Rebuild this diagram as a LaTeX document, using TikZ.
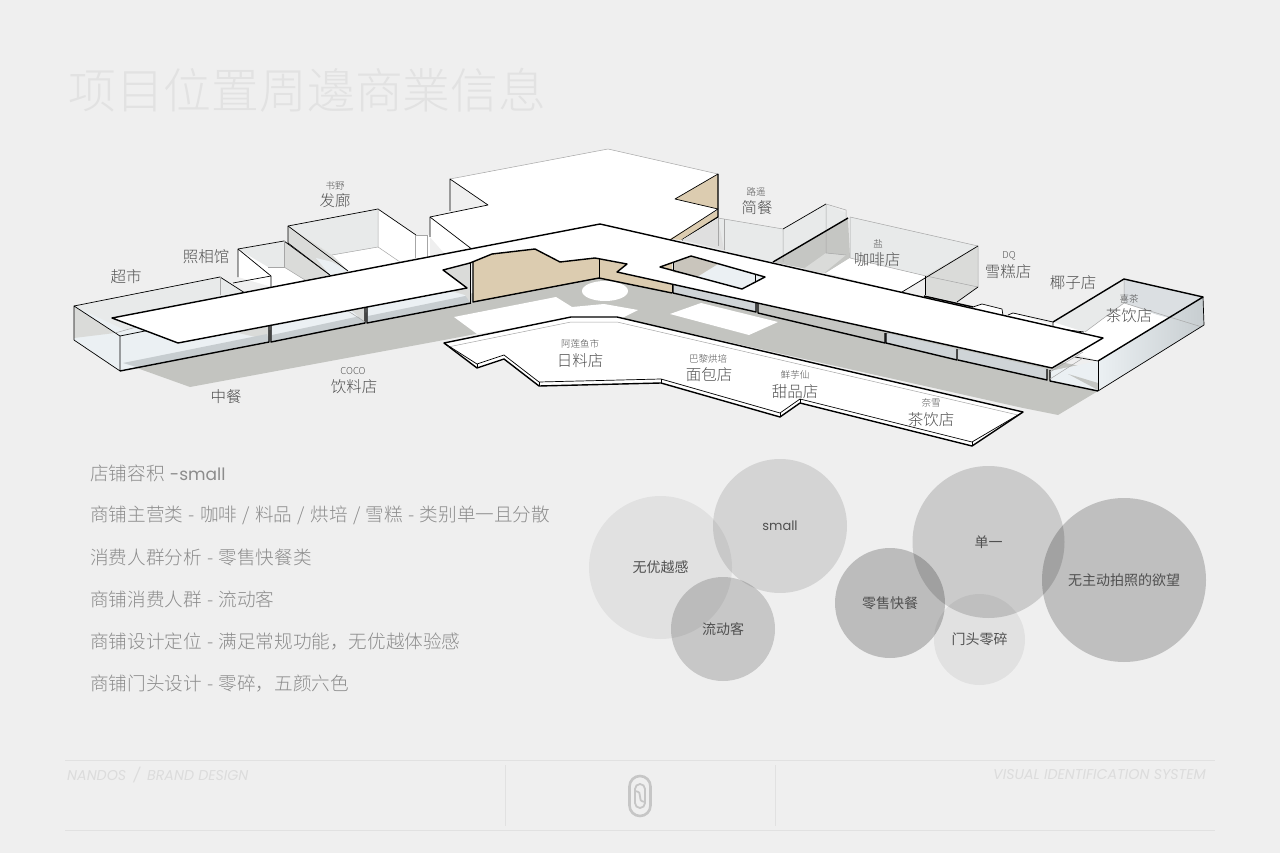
\documentclass[tikz,border=0pt]{standalone}
\usepackage{fontspec}
\setmainfont{Noto Sans CJK SC}
\newfontfamily\latinfont{Poppins}
\newfontfamily\thincjk[WordSpace=1.3]{Noto Sans CJK SC Light}
\definecolor{paper}{HTML}{EFEFEF}
\definecolor{ground}{HTML}{C3C4C0}
\definecolor{tan}{HTML}{DCCCB0}
\definecolor{glass}{HTML}{EBF0F3}
\definecolor{band}{HTML}{C7CDD0}
\definecolor{wallgrey}{HTML}{DADBD9}
\definecolor{wallpale}{HTML}{E8EAEA}
\definecolor{wallfront}{HTML}{CFD4D7}
\definecolor{darkwall}{HTML}{C5C6C3}
\definecolor{taupe}{HTML}{C9C5BC}
\definecolor{labelgrey}{HTML}{505050}
\definecolor{listgrey}{HTML}{8C8C8C}
\definecolor{titlegrey}{HTML}{E2E2E2}
\definecolor{footgrey}{HTML}{DCDCDC}
\definecolor{rulegrey}{HTML}{E1E1E1}
\tikzset{
	heavy/.style={draw=black, line width=1.4pt, line join=round},
	thin edge/.style={draw=black, line width=.7pt, line join=round},
	pale edge/.style={draw=gray!70, line width=.5pt, line join=round},
	shopname/.style={text=labelgrey, inner sep=0pt, font=\thincjk\fontsize{15.5pt}{17pt}\selectfont},
	shopsub/.style={text=labelgrey, inner sep=0pt, font=\thincjk\fontsize{9.5pt}{11pt}\selectfont},
	listline/.style={anchor=west, text=listgrey, inner sep=0pt, font=\thincjk\fontsize{18.6pt}{20pt}\selectfont},
	bubble/.style={circle, fill=black, inner sep=0pt, text opacity=1, text=labelgrey, font=\fontsize{14pt}{16pt}\selectfont},
	footnote/.style={text=footgrey, inner sep=0pt, font=\latinfont\itshape\fontsize{14.2pt}{16pt}\selectfont},
	logostroke/.style={draw=gray!45, line width=2.6pt}
}
\begin{document}
\begin{tikzpicture}[x=1pt, y=-1pt]
	\useasboundingbox (0, 0) rectangle (1280, 853);
	\fill[paper] (0, 0) rectangle (1280, 853);

	\node[anchor=west, text=titlegrey, inner sep=0pt, font=\thincjk\fontsize{47.8pt}{50pt}\selectfont] (title) at (68, 90) {项目位置周邊商業信息};

	\fill[ground] (123, 363) -- (190, 387) -- (444, 340) -- (571, 316) -- (617, 317) -- (1023, 408) -- (1058, 415) -- (1098, 391) -- (1100, 370) -- (600, 270) -- (270, 330) -- cycle;
	\fill[white] (454, 317) -- (556, 297) -- (572, 307) -- (604, 304) -- (638, 310) -- (622, 318) -- (571, 318) -- (477, 334) -- cycle;
	\fill[white] (670, 314) -- (701, 303) -- (778, 322) -- (749, 335) -- cycle;
	\fill[white] (605, 291) ellipse [x radius=23, y radius=10];

	\fill[white] (238, 249) -- (284, 241) -- (330, 275) -- (272, 287) -- (238, 277) -- cycle;
	\fill[wallpale] (238, 249) -- (284, 241) -- (284, 267) -- (268, 267) -- cycle;
	\fill[wallgrey] (284, 241) -- (330, 275) -- (305, 280) -- (284, 267) -- cycle;
	\draw[thin edge] (238, 277) -- (238, 249) -- (284, 241) -- (330, 275);
	\draw[thin edge] (238, 249) -- (271, 276) -- (271, 287);
	\draw[thin edge] (233, 283) -- (271, 276);
	\draw[pale edge] (268, 267) -- (284, 267) -- (284, 241);
	\draw[pale edge] (284, 267) -- (305, 280);

	\fill[white] (288, 226) -- (378, 209) -- (416, 235) -- (416, 258) -- (348, 272) -- (288, 243) -- cycle;
	\fill[wallpale] (288, 226) -- (378, 209) -- (378, 247) -- (332, 255) -- cycle;
	\fill[wallgrey] (288, 226) -- (332, 255) -- (348, 271) -- (330, 275) -- (288, 243) -- cycle;
	\fill[glass] (316, 258) -- (332, 262) -- (348, 271) -- (330, 275) -- cycle;
	\draw[thin edge] (288, 243) -- (288, 226) -- (378, 209) -- (416, 235);
	\draw[thin edge] (288, 226) -- (348, 271);
	\draw[thin edge] (288, 243) -- (330, 275);
	\draw[pale edge] (332, 255) -- (378, 247) -- (378, 209);
	\draw[pale edge] (378, 247) -- (400, 262);
	\fill[white] (416, 235) rectangle (430, 258);
	\draw[pale edge] (415, 235) -- (415, 258) (427, 235) -- (427, 258) (415, 235) -- (427, 235);

	\fill[white] (430, 217) -- (488, 205) -- (450, 179) -- (608, 149) -- (718, 174) -- (675, 199) -- (718, 209) -- (670, 240) -- (600, 235) -- (452, 262) -- (430, 237) -- cycle;
	\fill[tan] (718, 174) -- (675, 199) -- (718, 209) -- cycle;
	\fill[tan] (718, 210) -- (718, 217) -- (682, 240) -- (670, 239) -- cycle;
	\draw[pale edge] (450, 179) -- (608, 149) -- (718, 174);
	\draw[thin edge] (450, 211) -- (450, 179) -- (488, 205) -- (430, 217) -- (430, 237);
	\draw[thin edge] (430, 217) -- (473, 250);
	\draw[thin edge] (718, 174) -- (675, 199) -- (718, 209) -- (670, 240);
	\draw[heavy] (718, 174) -- (718, 217) -- (682, 240);

	\fill[wallpale] (682, 240) -- (718, 218) -- (783, 229) -- (783, 262) -- (770, 262) -- cycle;
	\fill[gray!25] (682, 240) -- (718, 218) -- (724, 250) -- cycle;
	\draw[pale edge] (718, 218) -- (783, 229) -- (783, 262);
	\draw[pale edge] (718, 218) -- (718, 246) (724, 219) -- (724, 250);

	\fill[wallpale] (783, 229) -- (826, 204) -- (846, 213) -- (846, 219) -- (773, 262) -- cycle;
	\fill[darkwall] (773, 262) -- (848, 218) -- (850, 258) -- (826, 273) -- cycle;
	\fill[wallgrey] (826, 253) -- (846, 255) -- (824, 273) -- (802, 270) -- cycle;
	\draw[thin edge] (783, 229) -- (826, 204);
	\draw[pale edge] (826, 204) -- (846, 210) -- (846, 219) (826, 204) -- (826, 253) -- (846, 255) (783, 229) -- (783, 262);
	\draw[heavy] (773, 262) -- (848, 218);

	\fill[white] (826, 273) -- (850, 258) -- (926, 276) -- (902, 292) -- cycle;
	\fill[wallpale] (850, 217) -- (978, 246) -- (926, 276) -- (850, 258) -- cycle;
	\fill[wallgrey] (978, 246) -- (978, 287) -- (957, 302) -- (925, 295) -- (925, 276) -- cycle;
	\draw[pale edge] (850, 217) -- (978, 246) -- (978, 287);
	\draw[pale edge] (850, 217) -- (850, 258) -- (926, 276) -- (978, 287);
	\draw[thin edge] (978, 246) -- (902, 292);
	\draw[thin edge] (925, 276) -- (925, 295);
	\draw[thin edge] (978, 287) -- (957, 302);
	\draw[heavy] (924, 296) -- (973, 307);

	\fill[white] (973, 307) -- (982, 304) -- (1002, 309) -- (1003, 316) -- cycle;
	\draw[thin edge] (973, 307) -- (982, 304) -- (1002, 309) -- (1003, 316);
	\fill[white] (1008, 315) -- (1013, 313) -- (1053, 325) -- (1053, 330) -- cycle;
	\draw[thin edge] (1008, 315) -- (1013, 313) -- (1053, 322);

	\fill[white] (1053, 322) -- (1124, 279) -- (1203, 297) -- (1098, 361) -- (1050, 345) -- cycle;
	\fill[wallpale] (1053, 322) -- (1124, 279) -- (1124, 303) -- (1085, 332) -- cycle;
	\fill[glass!85!gray] (1124, 279) -- (1203, 297) -- (1202, 327) -- (1157, 315) -- (1124, 303) -- cycle;
	\fill[white] (1157, 315) -- (1202, 327) -- (1150, 342) -- (1100, 340) -- (1124, 303) -- cycle;
	\shade[left color=glass, right color=band] (1098, 361) -- (1203, 297) -- (1204, 325) -- (1098, 391) -- cycle;
	\fill[glass] (1050, 371) -- (1098, 361) -- (1098, 391) -- (1050, 381) -- cycle;
	\fill[ground!80!band] (1068, 374) -- (1098, 390) -- (1098, 383) -- cycle;
	\draw[pale edge] (1124, 279) -- (1124, 303) -- (1202, 327);
	\draw[pale edge] (1085, 332) -- (1124, 303);
	\draw[heavy] (1053, 322) -- (1124, 279) -- (1203, 297) -- (1098, 361);
	\draw[thin edge] (1203, 297) -- (1204, 325) -- (1098, 391);
	\draw[thin edge] (1098, 361) -- (1098, 391);
	\draw[thin edge] (1053, 322) -- (1053, 328) -- (1084, 332);
	\draw[thin edge] (1098, 361) -- (1075, 357);

	\fill[glass] (74, 306) -- (220, 277) -- (245, 293) -- (268, 300) -- (269, 342) -- (120, 371) -- (74, 340) -- cycle;
	\fill[wallpale] (74, 306) -- (220, 277) -- (245, 293) -- (125, 330) -- cycle;
	\fill[wallgrey] (74, 306) -- (115, 333) -- (74, 338) -- cycle;
	\fill[wallgrey] (225, 330) -- (268, 325) -- (269, 340) -- cycle;
	\fill[band] (123, 363) -- (267, 334) -- (269, 341) -- (140, 368) -- cycle;
	\draw[thin edge] (220, 277) -- (245, 293);
	\draw[thin edge] (74, 306) -- (220, 277);
	\draw[thin edge] (74, 306) -- (120, 336) -- (120, 371) -- (74, 340) -- cycle;
	\draw[thin edge] (120, 336) -- (150, 330);
	\draw[pale edge] (220, 277) -- (220, 295);
	\draw[pale edge] (115, 333) -- (140, 326);
	\draw[heavy] (120, 371) -- (269, 342) -- (269, 320);

	\fill[glass] (271, 322) -- (365, 305) -- (365, 323) -- (271, 342) -- cycle;
	\fill[band] (272, 335) -- (365, 315) -- (365, 323) -- (272, 342) -- cycle;
	\fill[wallgrey] (345, 305) -- (365, 305) -- (365, 322) -- cycle;
	\draw[heavy] (271, 322) -- (271, 342) -- (365, 323) -- (365, 305);
	\draw[pale edge] (345, 309) -- (365, 322);

	\fill[glass] (367, 305) -- (471, 285) -- (471, 303) -- (367, 323) -- cycle;
	\fill[band] (368, 316) -- (470, 295) -- (470, 303) -- (368, 323) -- cycle;
	\draw[heavy] (367, 305) -- (367, 323) -- (471, 303);
	\fill[wallgrey] (443, 270) -- (470, 262) -- (470, 302) -- (465, 295) -- (440, 288) -- cycle;
	\draw[thin edge] (470, 262) -- (470, 303);

	\fill[tan] (473, 262) -- (492, 254) -- (535, 249) -- (560, 262) -- (595, 258) -- (599, 258) -- (599, 278) -- (473, 302) -- cycle;
	\fill[tan] (599, 258) -- (627, 264) -- (617, 272) -- (672, 284) -- (672, 293) -- (599, 278) -- cycle;
	\draw[heavy] (473, 262) -- (473, 302) -- (599, 278) -- (672, 293);
	\draw[thin edge] (599, 258) -- (599, 278);
	\draw[thin edge] (672, 284) -- (672, 293);

	\fill[wallfront] (673, 285) -- (756, 303) -- (756, 312) -- (673, 293) -- cycle;
	\draw[heavy] (673, 285) -- (673, 293) -- (756, 312) -- (756, 303);
	\fill[darkwall] (758, 303) -- (885, 333) -- (885, 343) -- (758, 313) -- cycle;
	\draw[heavy] (758, 303) -- (758, 313) -- (885, 343) -- (885, 333);
	\fill[wallfront] (886, 333) -- (957, 349) -- (957, 360) -- (886, 343) -- cycle;
	\draw[pale edge] (886, 334) -- (900, 328);
	\draw[heavy] (886, 333) -- (886, 343) -- (957, 360) -- (957, 349);
	\fill[wallfront] (958, 349) -- (1047, 369) -- (1047, 380) -- (958, 360) -- cycle;
	\draw[pale edge] (958, 350) -- (972, 343);
	\draw[heavy] (958, 360) -- (1047, 380) -- (1047, 369);
	\draw[heavy] (1050, 370) -- (1050, 381) -- (1098, 391);
	\draw[pale edge] (1050, 372) -- (1083, 352) (1050, 379) -- (1083, 358);

	\path[heavy, fill=white] (112, 318) -- (600, 224) -- (1103, 338) -- (1052, 368) -- (617, 272) -- (627, 264) -- (595, 258) -- (560, 262) -- (535, 249) -- (492, 254) -- (470, 263) -- (443, 270) -- (467, 288) -- (178, 343) -- cycle;

	\path[fill=glass] (660, 267) -- (691, 256) -- (765, 277) -- (742, 289) -- cycle;
	\fill[taupe] (673, 263) -- (691, 256) -- (718, 264) -- (697, 277) -- (673, 272) -- cycle;
	\fill[tan] (662, 266) -- (672, 263) -- (672, 271) -- cycle;
	\draw[thin edge] (673, 263) -- (673, 271);
	\draw[thin edge] (755, 274) -- (755, 282);
	\draw[heavy] (660, 267) -- (691, 256) -- (765, 277) -- (742, 289) -- cycle;

	\path[heavy, fill=white] (444, 343) -- (571, 317) -- (617, 317) -- (1023, 412) -- (972, 446) -- (800, 403) -- (780, 417) -- (661, 383) -- (539, 386) -- (504, 359) -- (477, 368) -- cycle;
	\draw[pale edge] (448, 347) -- (571, 322) -- (617, 322) -- (1018, 415);
	\draw[thin edge] (444, 343) -- (477, 364) -- (504, 355) -- (539, 382) -- (661, 379) -- (780, 413) -- (800, 399) -- (972, 442) -- (1023, 412);
	\draw[thin edge] (477, 364) -- (477, 368);
	\draw[thin edge] (539, 382) -- (539, 386);
	\draw[thin edge] (661, 379) -- (661, 383);
	\draw[thin edge] (780, 413) -- (780, 417);
	\draw[thin edge] (800, 399) -- (800, 403);
	\draw[thin edge] (972, 442) -- (972, 446);

	\node[shopname] (chaoshi) at (126, 277) {超市};
	\node[shopname] (zhaoxiang) at (206, 257) {照相馆};
	\node[shopsub] (shuye) at (335, 186) {书野};
	\node[shopname] (falang) at (335, 201) {发廊};
	\node[shopsub] (luyao) at (756, 192) {路遥};
	\node[shopname] (jiancan) at (757, 208) {简餐};
	\node[shopsub] (yan) at (878, 244) {盐};
	\node[shopname] (kafei) at (877, 260) {咖啡店};
	\node[shopsub] (dq) at (1009, 256) {DQ};
	\node[shopname] (xuegao) at (1008, 272) {雪糕店};
	\node[shopname] (yezi) at (1073, 283) {椰子店};
	\node[shopsub] (xicha) at (1129, 299) {喜茶};
	\node[shopname] (chayin) at (1129, 316) {茶饮店};
	\node[shopname] (zhongcan) at (226, 397) {中餐};
	\node[shopsub] (coco) at (353, 371) {COCO};
	\node[shopname] (yinliao) at (354, 387) {饮料店};
	\node[shopsub] (alian) at (580, 344) {阿莲鱼市};
	\node[shopname] (riliao) at (580, 361) {日料店};
	\node[shopsub] (bali) at (708, 359) {巴黎烘培};
	\node[shopname] (mianbao) at (709, 375) {面包店};
	\node[shopsub] (xianyu) at (795, 375) {鲜芋仙};
	\node[shopname] (tianpin) at (795, 392) {甜品店};
	\node[shopsub] (naixue) at (931, 403) {奈雪};
	\node[shopname] (chayinb) at (931, 420) {茶饮店};

	\node[listline] (volume) at (90, 473.5) {店铺容积 {\latinfont\fontsize{17pt}{20pt}\selectfont -small}};
	\node[listline] (category) at (90, 515.5) {商铺主营类 - 咖啡 / 料品 / 烘培 / 雪糕 - 类别单一且分散};
	\node[listline] (crowd) at (90, 557.5) {消费人群分析 - 零售快餐类};
	\node[listline] (flow) at (90, 599.5) {商铺消费人群 - 流动客};
	\node[listline] (position) at (90, 641.5) {商铺设计定位 - 满足常规功能，无优越体验感};
	\node[listline] (front) at (90, 683.5) {商铺门头设计 - 零碎，五颜六色};

	\node[bubble, fill opacity=.055, minimum size=143pt] (youyue) at (660.5, 567.5) {无优越感};
	\node[bubble, fill opacity=.11, minimum size=134pt, font=\latinfont\fontsize{13pt}{15pt}\selectfont] (small) at (780, 526) {small};
	\node[bubble, fill opacity=.165, minimum size=104pt] (liudong) at (723, 629) {流动客};
	\node[bubble, fill opacity=.15, minimum size=152pt] (danyi) at (988.5, 542) {单一};
	\node[bubble, fill opacity=.2, minimum size=164pt] (paizhao) at (1124, 580) {无主动拍照的欲望};
	\node[bubble, fill opacity=.21, minimum size=110pt] (lingshou) at (890, 603) {零售快餐};
	\node[bubble, fill opacity=.055, minimum size=91pt] (mentou) at (979.5, 639.5) {门头零碎};

	\draw[rulegrey, line width=1pt] (65, 760) to (1215, 760);
	\draw[rulegrey, line width=1pt] (65, 830.5) to (1215, 830.5);
	\draw[rulegrey, line width=.7pt] (505, 765) to (505, 826);
	\draw[rulegrey, line width=.7pt] (775, 765) to (775, 826);

	\node[footnote, anchor=west] (brand) at (67, 775) {NANDOS\,\,\,/\,\,\,BRAND DESIGN};
	\node[footnote, anchor=east] (visual) at (1206, 775) {VISUAL IDENTIFICATION SYSTEM};

	\draw[logostroke, rounded corners=10.5pt] (629.5, 776) rectangle (650.5, 816);
	\draw[logostroke, line width=1.8pt, rounded corners=5pt] (635, 784) rectangle (645, 808);
	\draw[logostroke, line width=1.8pt] (635, 791) .. controls (645, 792) and (635, 801) .. (645, 802);
\end{tikzpicture}
\end{document}
